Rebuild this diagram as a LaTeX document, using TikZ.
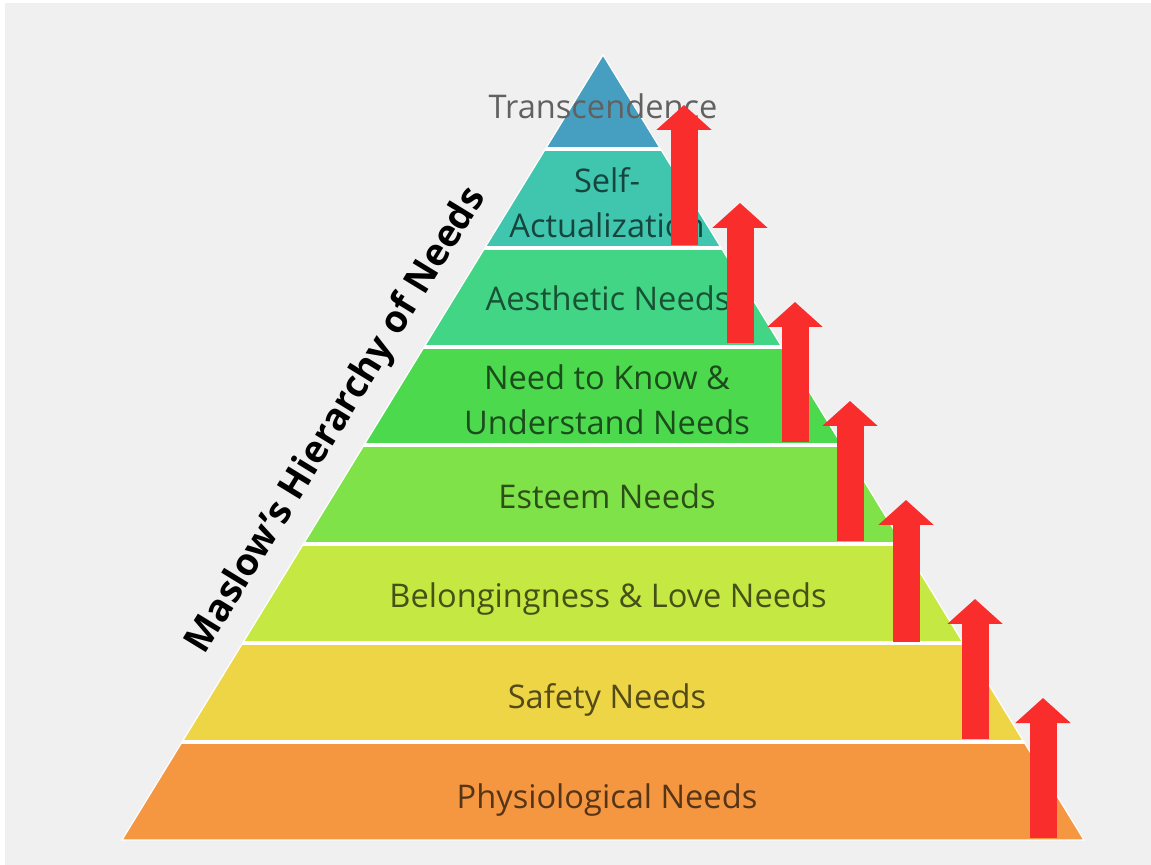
\documentclass[tikz,border=0pt]{standalone}
\usepackage{fontspec}
\setmainfont{Open Sans}
\usetikzlibrary{arrows.meta,positioning}
\definecolor{bggrey}{RGB}{240,240,240}
\definecolor{transc}{RGB}{70,158,192}
\definecolor{selfac}{RGB}{64,198,174}
\definecolor{aesth}{RGB}{67,213,134}
\definecolor{knowc}{RGB}{76,217,78}
\definecolor{esteemc}{RGB}{126,226,72}
\definecolor{belongc}{RGB}{198,232,66}
\definecolor{safetyc}{RGB}{238,213,69}
\definecolor{physioc}{RGB}{245,150,65}
\definecolor{arrred}{RGB}{250,45,45}
\tikzset{
  needtxt/.style = {align=center, inner sep=0pt,
    font=\fontsize{16.3}{22.5}\selectfont},% text of one level
  band/.style = {fill=#1},% one level of the pyramid
  gap/.style = {draw=white, line width=1.6pt},% white line between levels
  uparrow/.style = {draw=arrred, line width=13.5pt,
    -{Triangle[width=27pt,length=12.5pt]}},% red arrow
  maintitle/.style = {inner sep=0pt, font=\fontsize{18.8}{22}\selectfont\bfseries}
}

\begin{document}
\begin{tikzpicture}[x=0.5pt,y=-0.5pt]
    \useasboundingbox (0,0) rectangle (1151,865);
    \fill[white] (0,0) rectangle (1151,865);
    \fill[bggrey] (5,3) rectangle (1151,865);
    \coordinate (apex) at (603,55);
    \coordinate (bl) at (122,840);
    \coordinate (br) at (1084,840);
    \begin{scope}
        \clip (apex) -- (bl) -- (br) -- cycle;
        \fill[band=transc] (0,0) rectangle (1151,149);
        \fill[band=selfac] (0,149) rectangle (1151,248);
        \fill[band=aesth] (0,248) rectangle (1151,347);
        \fill[band=knowc] (0,347) rectangle (1151,445);
        \fill[band=esteemc] (0,445) rectangle (1151,544);
        \fill[band=belongc] (0,544) rectangle (1151,643);
        \fill[band=safetyc] (0,643) rectangle (1151,742);
        \fill[band=physioc] (0,742) rectangle (1151,840);
        \foreach \y in {149,248,347,445,544,643,742}
            \draw[gap] (0,\y) -- (1151,\y);
    \end{scope}
    \draw[white, line width=0.6pt] (apex) -- (bl) -- (br) -- cycle;

    \node [needtxt, anchor=base, text=black!62](trans) at (603,119) {Transcendence};
    \node [needtxt, text=selfac!35!black](selfact) at (607,203) {Self-\\Actualization};
    \node [needtxt, anchor=base, text=aesth!38!black](aesthn) at (608,311) {Aesthetic Needs};
    \node [needtxt, text=knowc!35!black](know) at (607,400) {Need to Know \&\\Understand Needs};
    \node [needtxt, anchor=base, text=esteemc!35!black](esteem) at (607,509) {Esteem Needs};
    \node [needtxt, anchor=base, text=belongc!35!black](belong) at (608,608) {Belongingness \& Love Needs};
    \node [needtxt, anchor=base, text=safetyc!35!black](safety) at (607,708) {Safety Needs};
    \node [needtxt, anchor=base, text=physioc!35!black](physio) at (607,808) {Physiological Needs};

    \node [maintitle, rotate=58.5](mtitle) at (337,421) {Maslow’s Hierarchy of Needs};

    \foreach \x/\ys/\ye [count=\i] in {684/245/105, 740/343/203, 795/442/302,
        850/541/401, 906/642/500, 975/739/599, 1043/838/698}{
        \coordinate (up\i s) at (\x,\ys);
        \coordinate (up\i e) at (\x,\ye);
        \draw[uparrow] (up\i s) -- (up\i e);
    }
\end{tikzpicture}
\end{document}
